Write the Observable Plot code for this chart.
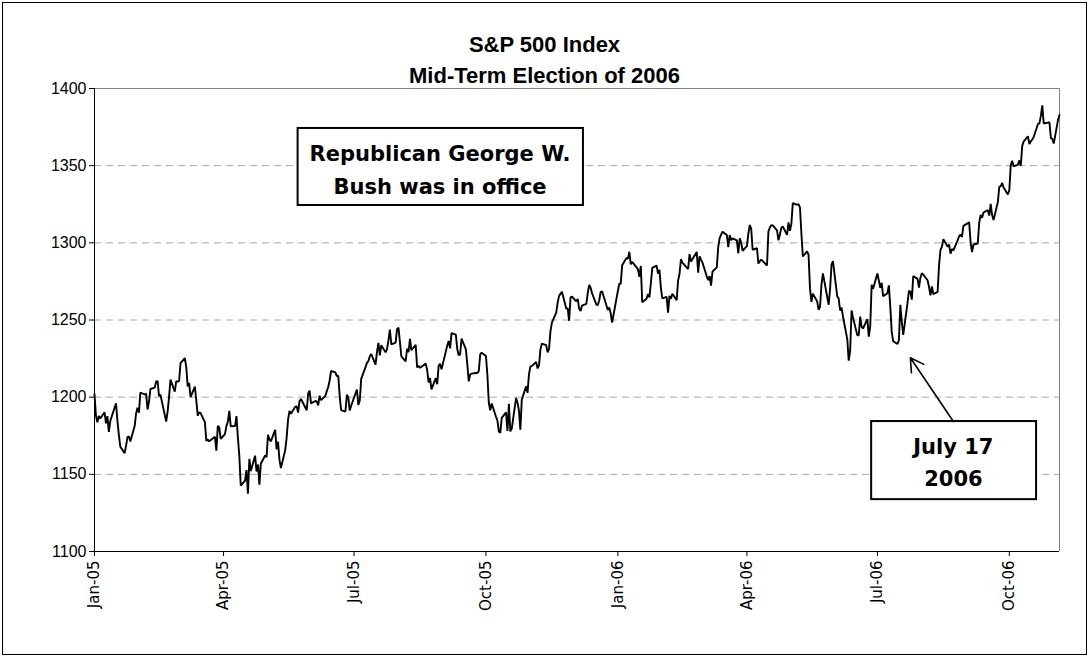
<!DOCTYPE html>
<html><head><meta charset="utf-8">
<script src="https://cdn.jsdelivr.net/npm/d3@7"></script>
<script src="https://cdn.jsdelivr.net/npm/@observablehq/plot@0.6"></script>
<style>
body{margin:0;background:#fff;}
#wrap{position:relative;width:1089px;height:657px;overflow:hidden;background:#fff;}
#border{position:absolute;left:2px;top:2px;width:1085px;height:653px;border:1px solid #000;box-sizing:border-box;pointer-events:none;}
#title{position:absolute;left:0;top:29px;width:1089px;text-align:center;font:bold 22px "Liberation Sans",Arial,sans-serif;line-height:31px;color:#000;}
#chart{position:absolute;left:0;top:78px;}
</style></head>
<body>
<div id="wrap">
  <div id="title">S&amp;P 500 Index<br>Mid-Term Election of 2006</div>
  <div id="chart"></div>
  <div id="border"></div>
</div>
<script>
// S&P 500 daily closes
const dates2005 = ["01-03","01-04","01-05","01-06","01-07","01-10","01-11","01-12","01-13","01-14","01-18","01-19","01-20","01-21","01-24","01-25","01-26","01-27","01-28","01-31",
"02-01","02-02","02-03","02-04","02-07","02-08","02-09","02-10","02-11","02-14","02-15","02-16","02-17","02-18","02-22","02-23","02-24","02-25","02-28",
"03-01","03-02","03-03","03-04","03-07","03-08","03-09","03-10","03-11","03-14","03-15","03-16","03-17","03-18","03-21","03-22","03-23","03-24","03-28","03-29","03-30","03-31",
"04-01","04-04","04-05","04-06","04-07","04-08","04-11","04-12","04-13","04-14","04-15","04-18","04-19","04-20","04-21","04-22","04-25","04-26","04-27","04-28","04-29",
"05-02","05-03","05-04","05-05","05-06","05-09","05-10","05-11","05-12","05-13","05-16","05-17","05-18","05-19","05-20","05-23","05-24","05-25","05-26","05-27","05-31",
"06-01","06-02","06-03","06-06","06-07","06-08","06-09","06-10","06-13","06-14","06-15","06-16","06-17","06-20","06-21","06-22","06-23","06-24","06-27","06-28","06-29","06-30",
"07-01","07-05","07-06","07-07","07-08","07-11","07-12","07-13","07-14","07-15","07-18","07-19","07-20","07-21","07-22","07-25","07-26","07-27","07-28","07-29",
"08-01","08-02","08-03","08-04","08-05","08-08","08-09","08-10","08-11","08-12","08-15","08-16","08-17","08-18","08-19","08-22","08-23","08-24","08-25","08-26","08-29","08-30","08-31",
"09-01","09-02","09-06","09-07","09-08","09-09","09-12","09-13","09-14","09-15","09-16","09-19","09-20","09-21","09-22","09-23","09-26","09-27","09-28","09-29","09-30",
"10-03","10-04","10-05","10-06","10-07","10-10","10-11","10-12","10-13","10-14","10-17","10-18","10-19","10-20","10-21","10-24","10-25","10-26","10-27","10-28","10-31",
"11-01","11-02","11-03","11-04","11-07","11-08","11-09","11-10","11-11","11-14","11-15","11-16","11-17","11-18","11-21","11-22","11-23","11-25","11-28","11-29","11-30",
"12-01","12-02","12-05","12-06","12-07","12-08","12-09","12-12","12-13","12-14","12-15","12-16","12-19","12-20","12-21","12-22","12-23","12-27","12-28","12-29","12-30"];
const close2005 = [1202.08,1188.05,1183.74,1187.89,1186.19,1190.25,1182.99,1187.70,1177.45,1184.52,1195.98,1184.63,1175.41,1167.87,1163.75,1168.41,1174.07,1174.55,1171.36,1181.27,
1189.41,1193.19,1189.89,1203.03,1201.72,1202.30,1191.99,1197.01,1205.30,1206.14,1210.12,1210.34,1200.75,1201.59,1184.16,1190.80,1200.20,1211.37,1203.60,
1210.41,1210.08,1210.47,1222.12,1225.31,1219.43,1207.01,1209.25,1200.08,1206.83,1197.75,1188.07,1190.21,1189.65,1183.78,1171.71,1172.53,1171.42,1174.28,1165.36,1181.41,1180.59,
1172.92,1176.12,1181.39,1184.07,1191.14,1181.20,1181.21,1187.76,1173.79,1162.05,1142.62,1145.98,1152.78,1137.50,1159.95,1152.12,1162.10,1151.83,1156.38,1143.22,1156.85,
1162.16,1161.17,1175.65,1172.63,1171.35,1178.84,1166.22,1171.11,1159.36,1154.05,1165.69,1173.80,1185.56,1191.08,1189.28,1193.86,1194.07,1190.01,1197.62,1198.78,1191.50,
1202.22,1204.29,1196.02,1197.51,1197.26,1194.67,1200.93,1198.11,1200.82,1203.91,1206.58,1210.96,1216.96,1216.10,1213.61,1213.88,1200.73,1191.57,1190.69,1201.57,1199.85,1191.33,
1194.44,1204.99,1194.94,1197.87,1211.86,1219.44,1222.21,1223.29,1226.50,1227.92,1221.13,1229.35,1235.20,1227.04,1233.68,1229.03,1231.16,1236.79,1243.72,1234.18,
1235.35,1244.12,1245.04,1235.86,1226.42,1223.13,1231.38,1229.13,1237.81,1230.39,1233.87,1219.34,1220.24,1219.02,1219.71,1221.73,1217.59,1209.59,1212.37,1205.10,1212.28,1208.41,1220.33,
1221.59,1218.02,1233.39,1236.36,1231.67,1241.48,1240.56,1231.20,1227.16,1227.73,1237.91,1231.02,1221.34,1210.20,1214.62,1215.29,1215.63,1215.66,1216.89,1227.68,1228.81,
1226.70,1214.47,1196.39,1191.49,1195.90,1187.33,1184.87,1177.68,1176.84,1186.57,1190.10,1178.14,1195.76,1177.80,1179.59,1199.38,1196.54,1191.38,1178.90,1198.41,1207.01,
1202.76,1214.76,1219.94,1220.14,1222.81,1218.59,1220.65,1230.96,1234.72,1233.76,1229.01,1231.21,1242.80,1248.27,1254.85,1261.23,1265.61,1268.25,1257.46,1257.48,1249.48,
1264.67,1265.08,1262.09,1263.70,1257.37,1255.84,1259.37,1260.43,1267.43,1272.74,1270.94,1267.32,1259.92,1259.62,1262.79,1268.12,1268.66,1256.54,1258.17,1254.42,1248.29];
const dates2006 = ["01-03","01-04","01-05","01-06","01-09","01-10","01-11","01-12","01-13","01-17","01-18","01-19","01-20","01-23","01-24","01-25","01-26","01-27","01-30","01-31",
"02-01","02-02","02-03","02-06","02-07","02-08","02-09","02-10","02-13","02-14","02-15","02-16","02-17","02-21","02-22","02-23","02-24","02-27","02-28",
"03-01","03-02","03-03","03-06","03-07","03-08","03-09","03-10","03-13","03-14","03-15","03-16","03-17","03-20","03-21","03-22","03-23","03-24","03-27","03-28","03-29","03-30","03-31",
"04-03","04-04","04-05","04-06","04-07","04-10","04-11","04-12","04-13","04-17","04-18","04-19","04-20","04-21","04-24","04-25","04-26","04-27","04-28",
"05-01","05-02","05-03","05-04","05-05","05-08","05-09","05-10","05-11","05-12","05-15","05-16","05-17","05-18","05-19","05-22","05-23","05-24","05-25","05-26","05-30","05-31",
"06-01","06-02","06-05","06-06","06-07","06-08","06-09","06-12","06-13","06-14","06-15","06-16","06-19","06-20","06-21","06-22","06-23","06-26","06-27","06-28","06-29","06-30",
"07-03","07-05","07-06","07-07","07-10","07-11","07-12","07-13","07-14","07-17","07-18","07-19","07-20","07-21","07-24","07-25","07-26","07-27","07-28","07-31",
"08-01","08-02","08-03","08-04","08-07","08-08","08-09","08-10","08-11","08-14","08-15","08-16","08-17","08-18","08-21","08-22","08-23","08-24","08-25","08-28","08-29","08-30","08-31",
"09-01","09-05","09-06","09-07","09-08","09-11","09-12","09-13","09-14","09-15","09-18","09-19","09-20","09-21","09-22","09-25","09-26","09-27","09-28","09-29",
"10-02","10-03","10-04","10-05","10-06","10-09","10-10","10-11","10-12","10-13","10-16","10-17","10-18","10-19","10-20","10-23","10-24","10-25","10-26","10-27","10-30","10-31",
"11-01","11-02","11-03","11-06","11-07"];
const close2006 = [1268.80,1273.46,1273.48,1285.45,1290.15,1289.69,1294.18,1286.06,1287.61,1282.93,1277.93,1285.04,1261.49,1263.82,1266.86,1264.68,1273.83,1283.72,1285.19,1280.08,
1282.46,1270.84,1264.03,1265.02,1254.78,1265.65,1263.78,1266.99,1262.86,1275.53,1280.00,1289.38,1287.24,1283.03,1292.67,1287.79,1289.43,1294.12,1280.66,
1291.24,1289.14,1287.23,1278.26,1275.88,1278.47,1272.23,1281.42,1284.13,1297.48,1303.02,1305.33,1307.25,1305.08,1297.23,1305.04,1301.67,1302.95,1301.61,1293.23,1302.89,1300.25,1294.87,
1297.81,1305.93,1311.56,1309.04,1295.50,1296.62,1286.57,1288.12,1289.12,1285.33,1307.28,1309.93,1311.46,1311.28,1308.11,1301.74,1305.41,1309.72,1310.61,
1305.19,1313.21,1307.85,1312.25,1325.76,1324.66,1325.14,1322.85,1305.92,1291.24,1294.50,1292.08,1270.32,1261.81,1267.03,1262.07,1256.58,1258.57,1272.88,1280.16,1259.87,1270.09,
1285.71,1288.22,1265.29,1263.85,1256.15,1257.93,1252.30,1237.44,1223.69,1230.04,1256.16,1251.54,1240.13,1240.12,1252.20,1245.60,1244.50,1250.56,1239.20,1246.00,1272.87,1270.20,
1280.19,1270.91,1274.08,1265.48,1267.34,1272.43,1258.60,1242.28,1236.20,1234.49,1236.86,1259.81,1249.13,1240.29,1260.91,1268.88,1268.40,1263.20,1278.55,1276.66,
1270.92,1277.41,1280.27,1279.36,1275.77,1271.48,1265.95,1271.81,1266.74,1268.21,1285.58,1295.43,1297.48,1302.30,1297.52,1298.82,1292.99,1296.06,1295.09,1301.78,1304.28,1305.37,1303.82,
1311.01,1313.25,1300.26,1294.02,1298.92,1299.54,1313.00,1318.07,1316.28,1319.66,1321.18,1317.64,1325.18,1318.03,1314.78,1326.37,1336.35,1336.59,1338.88,1335.85,
1331.32,1334.11,1350.20,1353.22,1349.59,1350.66,1353.42,1349.95,1362.83,1365.62,1369.06,1364.05,1365.80,1366.96,1368.60,1377.02,1377.38,1382.22,1389.08,1377.34,1377.93,1377.94,
1367.81,1367.34,1364.30,1379.78,1382.84];

const xTickDates = ["2005-01-03","2005-04-03","2005-07-03","2005-10-03","2006-01-03","2006-04-03","2006-07-03","2006-10-03"];
const xTickLabels = ["Jan-05","Apr-05","Jul-05","Oct-05","Jan-06","Apr-06","Jul-06","Oct-06"];
const yTicks = [1100,1150,1200,1250,1300,1350,1400];
const gridValues = [1150,1200,1250,1300,1350];
const xDomain = ["2005-01-03","2006-11-07"];
const yDomain = [1100,1400];

// annotations (data coordinates)
const noteBoxes = [
  {x1:"2005-05-25", x2:"2005-12-10", y1:1324.2, y2:1374.1},
  {x1:"2006-06-29", x2:"2006-10-22", y1:1133.6, y2:1184.2}
];
const noteTexts = [
  {x:"2005-09-01", y:1349.1, text:"Republican George W.\nBush was in office"},
  {x:"2006-08-25", y:1159.5, text:"July 17\n2006"}
];
const noteArrow = [{x1:"2006-08-25", y1:1184.2, x2:"2006-07-26", y2:1225.5}];

const D = s => new Date(s + "T00:00:00Z");
const data = [
  ...dates2005.map((d, i) => ({date: D("2005-" + d), close: close2005[i]})),
  ...dates2006.map((d, i) => ({date: D("2006-" + d), close: close2006[i]}))
];
const tickDates = xTickDates.map(D);
const labelOf = new Map(tickDates.map((d, i) => [+d, xTickLabels[i]]));
const boxes = noteBoxes.map(b => ({...b, x1: D(b.x1), x2: D(b.x2)}));
const texts = noteTexts.map(t => ({...t, x: D(t.x)}));
const arrows = noteArrow.map(a => ({...a, x1: D(a.x1), x2: D(a.x2)}));
const x0 = D(xDomain[0]), x1 = D(xDomain[1]);

const chart = Plot.plot({
  width: 1089,
  height: 579,
  marginTop: 10,
  marginLeft: 94,
  marginRight: 30,
  marginBottom: 106,
  style: {fontFamily: "'Liberation Sans', Arial, sans-serif", fontSize: "16px", color: "#000", background: "transparent", overflow: "visible"},
  x: {type: "utc", domain: [x0, x1]},
  y: {domain: yDomain},
  marks: [
    Plot.ruleY(gridValues, {stroke: "#a8a8a8", strokeWidth: 1, strokeDasharray: "7,5"}),
    Plot.ruleY([yDomain[1]], {stroke: "#808080", strokeWidth: 1}),
    Plot.ruleX([x1], {stroke: "#808080", strokeWidth: 1}),
    Plot.lineY(data, {x: "date", y: "close", stroke: "#000", strokeWidth: 1.9, strokeLinejoin: "miter"}),
    Plot.rect(boxes, {x1: "x1", x2: "x2", y1: "y1", y2: "y2", fill: "#fff", stroke: "#000", strokeWidth: 2}),
    Plot.text(texts, {x: "x", y: "y", text: "text", fontWeight: "bold", fontSize: 21, lineHeight: 1.55, fontFamily: "'DejaVu Sans', Verdana, sans-serif", fill: "#000"}),
    Plot.arrow(arrows, {x1: "x1", y1: "y1", x2: "x2", y2: "y2", stroke: "#000", strokeWidth: 1.6, headLength: 14, bend: 0}),
    Plot.ruleX([x0], {stroke: "#000", strokeWidth: 1}),
    Plot.ruleY([yDomain[0]], {stroke: "#000", strokeWidth: 1}),
    Plot.axisY(yTicks, {tickSize: 5, tickPadding: 3, fontSize: 16, label: null, stroke: "#000", tickFormat: d => String(d)}),
    Plot.axisX(tickDates, {tickSize: 5, tickPadding: 4, tickRotate: -90, fontSize: 15, fontFamily: "'DejaVu Sans', Verdana, sans-serif", label: null, stroke: "#000", tickFormat: d => labelOf.get(+d)})
  ]
});
document.getElementById("chart").appendChild(chart);
</script>
</body></html>
